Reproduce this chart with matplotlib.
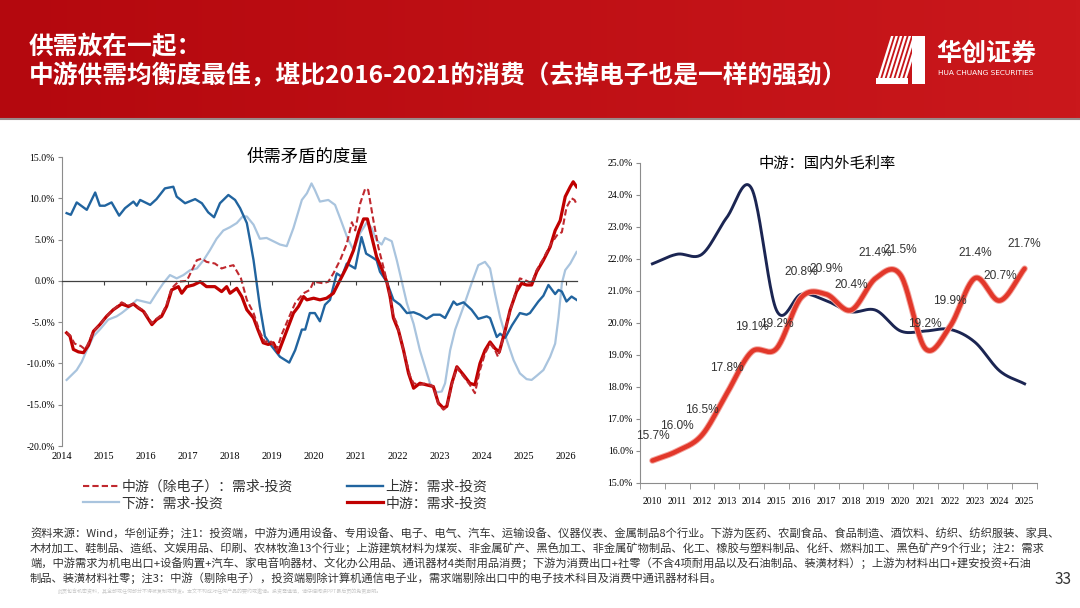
import numpy as np
import matplotlib
matplotlib.use('Agg')
import matplotlib.pyplot as plt
from matplotlib import font_manager
from matplotlib.patches import Polygon, Rectangle

plt.rcParams['font.family'] = ['Noto Sans CJK SC', 'DejaVu Sans']

# ---- left chart: 供需矛盾的度量 (decimal year, %)
up_x = [2014.11, 2014.21, 2014.35, 2014.59, 2014.79, 2014.90, 2015.02, 2015.18, 2015.36, 2015.50,
        2015.70, 2015.78, 2015.86, 2016.10, 2016.25, 2016.45, 2016.65, 2016.73, 2016.93, 2017.17,
        2017.33, 2017.48, 2017.62, 2017.76, 2017.96, 2018.12, 2018.24, 2018.40, 2018.48, 2018.56,
        2018.71, 2018.83, 2018.99, 2019.19, 2019.41, 2019.55, 2019.71, 2019.79, 2019.90, 2020.02,
        2020.14, 2020.26, 2020.38, 2020.54, 2020.66, 2020.78, 2020.98, 2021.13, 2021.24, 2021.37,
        2021.49, 2021.57, 2021.73, 2021.89, 2022.05, 2022.21, 2022.37, 2022.52, 2022.68, 2022.84,
        2023.00, 2023.12, 2023.32, 2023.40, 2023.56, 2023.75, 2023.91, 2024.11, 2024.19, 2024.35,
        2024.43, 2024.55, 2024.71, 2024.90, 2025.06, 2025.14, 2025.34, 2025.46, 2025.58, 2025.74,
        2025.82, 2025.90, 2026.01, 2026.13, 2026.25]
up_y = [8.2, 8.0, 9.5, 8.6, 10.7, 9.1, 9.1, 9.5, 7.9, 8.8,
        9.6, 9.1, 9.8, 9.2, 9.9, 11.2, 11.4, 10.2, 9.4, 9.9,
        9.4, 8.3, 7.7, 9.4, 10.4, 9.8, 8.8, 7.0, 4.8, 2.5,
        -3.1, -6.7, -7.9, -9.2, -9.9, -8.4, -5.9, -5.9, -3.9, -3.9,
        -4.9, -2.9, -2.3, 0.9, 0.5, 2.1, 1.5, 5.3, 3.3, 2.9,
        2.5, 1.1, -0.1, -2.3, -2.9, -3.9, -3.8, -4.1, -4.6, -4.1,
        -4.1, -4.5, -2.5, -2.9, -2.6, -3.5, -4.6, -4.3, -4.5, -6.8,
        -6.4, -6.9, -5.4, -3.9, -4.1, -3.9, -2.5, -1.8, -0.5, -1.6,
        -1.1, -1.3, -2.5, -1.9, -2.3]

down_x = [2014.11, 2014.23, 2014.35, 2014.47, 2014.59, 2014.75, 2014.90, 2015.10, 2015.30, 2015.42,
          2015.62, 2015.78, 2015.94, 2016.10, 2016.25, 2016.41, 2016.57, 2016.73, 2016.89, 2017.05,
          2017.21, 2017.37, 2017.52, 2017.68, 2017.84, 2018.00, 2018.16, 2018.30, 2018.40, 2018.56,
          2018.71, 2018.87, 2019.03, 2019.19, 2019.35, 2019.51, 2019.71, 2019.83, 2019.94, 2020.02,
          2020.14, 2020.34, 2020.50, 2020.62, 2020.78, 2020.94, 2021.10, 2021.26, 2021.37, 2021.49,
          2021.61, 2021.69, 2021.85, 2021.97, 2022.09, 2022.21, 2022.37, 2022.52, 2022.64, 2022.76,
          2022.92, 2023.04, 2023.12, 2023.24, 2023.36, 2023.56, 2023.75, 2023.91, 2024.07, 2024.19,
          2024.31, 2024.43, 2024.59, 2024.75, 2024.90, 2025.06, 2025.18, 2025.30, 2025.46, 2025.62,
          2025.74, 2025.82, 2025.90, 2025.98, 2026.10, 2026.25]
down_y = [-12.0, -11.4, -10.8, -9.8, -8.4, -6.7, -5.9, -4.7, -4.3, -3.9,
          -3.1, -2.3, -2.5, -2.7, -1.5, -0.3, 0.7, 0.3, 0.7, 1.3,
          1.5, 2.5, 3.7, 5.1, 6.1, 6.5, 7.0, 7.8, 7.8, 6.8,
          5.1, 5.2, 4.8, 4.4, 4.2, 6.4, 9.8, 10.6, 11.8, 11.0,
          9.6, 9.8, 9.2, 7.6, 5.4, 3.7, 5.8, 7.1, 6.4, 4.9,
          4.4, 5.2, 4.8, 2.5, -0.1, -2.7, -5.2, -8.4, -10.4, -12.4,
          -13.5, -13.4, -12.4, -8.4, -5.9, -3.1, -0.3, 1.9, 2.3, 1.5,
          -1.6, -4.4, -7.2, -9.6, -11.2, -11.9, -12.0, -11.5, -10.8, -9.2,
          -7.6, -4.4, -0.3, 1.3, 2.1, 3.5]

mid_x = [2014.11, 2014.19, 2014.27, 2014.39, 2014.51, 2014.63, 2014.75, 2014.90, 2015.06, 2015.22,
         2015.42, 2015.58, 2015.70, 2015.82, 2015.94, 2016.14, 2016.25, 2016.37, 2016.49, 2016.61,
         2016.77, 2016.85, 2016.97, 2017.13, 2017.29, 2017.44, 2017.64, 2017.80, 2017.92, 2018.00,
         2018.16, 2018.28, 2018.40, 2018.56, 2018.67, 2018.79, 2018.91, 2019.03, 2019.15, 2019.27,
         2019.39, 2019.51, 2019.63, 2019.75, 2019.83, 2019.99, 2020.14, 2020.30, 2020.46, 2020.62,
         2020.78, 2020.94, 2021.06, 2021.18, 2021.27, 2021.37, 2021.49, 2021.61, 2021.73, 2021.81,
         2021.89, 2022.01, 2022.13, 2022.25, 2022.37, 2022.52, 2022.68, 2022.84, 2022.96, 2023.08,
         2023.16, 2023.28, 2023.40, 2023.56, 2023.71, 2023.83, 2023.95, 2024.07, 2024.19, 2024.31,
         2024.41, 2024.55, 2024.67, 2024.82, 2024.94, 2025.06, 2025.18, 2025.30, 2025.46, 2025.62,
         2025.74, 2025.86, 2025.98, 2026.10, 2026.17, 2026.25]
mid_y = [-6.3, -6.7, -8.3, -8.6, -8.7, -7.8, -6.1, -5.3, -4.3, -3.5,
         -2.8, -3.1, -2.8, -3.3, -3.7, -5.3, -4.7, -4.3, -3.1, -1.1,
         -0.7, -1.5, -0.7, -0.5, -0.1, -0.7, -0.7, -1.3, -0.7, -1.5,
         -0.9, -1.9, -3.5, -4.5, -6.0, -7.5, -7.7, -7.5, -8.7, -7.1,
         -5.5, -3.9, -3.1, -1.9, -2.3, -2.1, -2.3, -2.1, -1.5, 0.1,
         1.7, 3.7, 5.9, 7.5, 7.5, 5.4, 2.9, 1.5, -0.1, -1.9,
         -4.5, -6.0, -8.4, -11.2, -13.0, -12.4, -12.6, -12.8, -14.8, -15.4,
         -15.2, -12.4, -10.4, -11.4, -12.4, -12.6, -10.0, -8.4, -7.4, -8.2,
         -8.6, -6.0, -3.5, -1.3, -0.3, -0.5, -0.5, 1.1, 2.5, 4.1,
         6.1, 7.3, 10.2, 11.4, 12.0, 11.4]

midx_x = [2014.11, 2014.19, 2014.30, 2014.45, 2014.55, 2014.65, 2014.75, 2014.90, 2015.06, 2015.22,
          2015.42, 2015.58, 2015.70, 2015.82, 2015.94, 2016.14, 2016.25, 2016.37, 2016.49, 2016.61,
          2016.77, 2016.97, 2017.21, 2017.33, 2017.44, 2017.64, 2017.80, 2017.92, 2018.08, 2018.26,
          2018.40, 2018.56, 2018.71, 2018.83, 2018.95, 2019.11, 2019.23, 2019.43, 2019.55, 2019.75,
          2019.90, 2019.99, 2020.22, 2020.34, 2020.46, 2020.62, 2020.78, 2020.90, 2020.98, 2021.10,
          2021.22, 2021.29, 2021.41, 2021.53, 2021.69, 2021.81, 2021.89, 2021.97, 2022.13, 2022.29,
          2022.37, 2022.52, 2022.68, 2022.84, 2022.96, 2023.08, 2023.16, 2023.28, 2023.40, 2023.56,
          2023.71, 2023.83, 2023.95, 2024.07, 2024.19, 2024.31, 2024.38, 2024.50, 2024.67, 2024.82,
          2024.90, 2025.02, 2025.18, 2025.30, 2025.46, 2025.62, 2025.78, 2025.90, 2026.01, 2026.13,
          2026.20, 2026.25]
midx_y = [-6.3, -6.6, -7.6, -7.9, -8.3, -7.3, -6.1, -5.3, -4.3, -3.5,
          -2.6, -3.0, -2.8, -3.2, -3.6, -5.1, -4.6, -4.1, -2.9, -0.9,
          -0.1, 0.0, 2.5, 2.7, 2.3, 2.1, 1.5, 1.7, 1.9, 0.3,
          -2.3, -3.9, -6.2, -7.4, -7.2, -8.4, -6.5, -4.1, -2.7, -1.5,
          -1.1, -0.1, -0.3, -0.1, 0.9, 2.5, 4.5, 7.1, 6.1, 9.4,
          11.2, 11.0, 7.4, 4.1, 0.9, -1.9, -4.3, -5.1, -8.4, -11.6,
          -12.4, -12.6, -12.4, -12.8, -14.9, -15.6, -15.3, -12.6, -10.5, -11.6,
          -12.6, -13.6, -10.8, -8.8, -7.6, -8.4, -9.2, -7.0, -3.6, -1.0,
          0.3, 0.1, -0.3, 1.3, 2.7, 4.3, 5.5, 5.9, 8.9, 10.0,
          9.8, 9.3]

left_years = list(range(2014, 2027))
legend_labels = ['中游（除电子）：需求-投资', '下游：需求-投资', '上游：需求-投资', '中游：需求-投资']

# ---- right chart: 中游：国内外毛利率 (%)
gm_years = [str(y) for y in range(2010, 2026)]
gm_domestic = [15.7, 16.0, 16.5, 17.8, 19.1, 19.2, 20.8, 20.9, 20.4, 21.4, 21.5, 19.2, 19.9, 21.4, 20.7, 21.7]
gm_overseas = [21.85, 22.15, 22.15, 23.3, 24.2, 20.4, 20.9, 20.7, 20.35, 20.4, 19.75, 19.75, 19.8, 19.4, 18.5, 18.1]

notes = [
    '资料来源：Wind，华创证券；注1：投资端，中游为通用设备、专用设备、电子、电气、汽车、运输设备、仪器仪表、金属制品8个行业。下游为医药、农副食品、食品制造、酒饮料、纺织、纺织服装、家具、',
    '木材加工、鞋制品、造纸、文娱用品、印刷、农林牧渔13个行业；上游建筑材料为煤炭、非金属矿产、黑色加工、非金属矿物制品、化工、橡胶与塑料制品、化纤、燃料加工、黑色矿产9个行业；注2：需求',
    '端，中游需求为机电出口+设备购置+汽车、家电音响器材、文化办公用品、通讯器材4类耐用品消费；下游为消费出口+社零（不含4项耐用品以及石油制品、装潢材料）；上游为材料出口+建安投资+石油',
    '制品、装潢材料社零；注3：中游（剔除电子），投资端剔除计算机通信电子业，需求端剔除出口中的电子技术科目及消费中通讯器材科目。',
]

# narrow font for the data labels if there is one
installed = {f.name for f in font_manager.fontManager.ttflist}
label_font = 'Liberation Sans Narrow' if 'Liberation Sans Narrow' in installed else 'Liberation Sans'
label_size = 10 if label_font == 'Liberation Sans Narrow' else 8.6


def smooth(x, y, n=24):
    # catmull-rom curve through the points, like Excel's smoothed line
    x = np.asarray(x, float)
    y = np.asarray(y, float)
    px = np.concatenate([[2 * x[0] - x[1]], x, [2 * x[-1] - x[-2]]])
    py = np.concatenate([[2 * y[0] - y[1]], y, [2 * y[-1] - y[-2]]])
    t = np.linspace(0, 1, n, endpoint=False)
    xs, ys = [], []
    for i in range(1, len(px) - 2):
        for p, out in ((px, xs), (py, ys)):
            p0, p1, p2, p3 = p[i - 1], p[i], p[i + 1], p[i + 2]
            out.append(0.5 * (2 * p1 + (-p0 + p2) * t + (2 * p0 - 5 * p1 + 4 * p2 - p3) * t ** 2
                              + (-p0 + 3 * p1 - 3 * p2 + p3) * t ** 3))
    xs.append([x[-1]])
    ys.append([y[-1]])
    return np.concatenate(xs), np.concatenate(ys)


fig = plt.figure(figsize=(10.8, 6.08), dpi=100)
fig.patch.set_facecolor('white')

# background / header in pixel coordinates
bg = fig.add_axes([0, 0, 1, 1])
bg.set_xlim(0, 1080)
bg.set_ylim(608, 0)
bg.axis('off')
g = np.linspace(0, 1, 256)[:, None]
c0 = np.array([180, 8, 14]) / 255
c1 = np.array([202, 24, 28]) / 255
bg.imshow((c0 + (c1 - c0) * g)[None, :, :], extent=(0, 1080, 118, 0), aspect='auto', zorder=0)
bg.plot([0, 1080], [118.5, 118.5], color='#9a8a8a', lw=1.5, zorder=1)
bg.text(29, 47, '供需放在一起：', color='white', fontsize=17.8, fontweight='bold', va='center')
bg.text(29, 76, '中游供需均衡度最佳，堪比2016-2021的消费（去掉电子也是一样的强劲）',
        color='white', fontsize=17.8, fontweight='bold', va='center')

# logo
for i in range(7):
    x0 = 876 + i * 4.4
    bg.add_patch(Polygon([(x0, 84), (x0 + 2.5, 84), (x0 + 2.5 + 15, 36), (x0 + 15, 36)],
                         closed=True, color='white', lw=0, zorder=2))
bg.add_patch(Rectangle((876, 78), 32, 6, color='white', lw=0, zorder=2))
bg.add_patch(Rectangle((912, 36), 13, 48, color='white', lw=0, zorder=2))
bg.text(986, 54, '华创证券', color='white', fontsize=18, fontweight='bold', ha='center', va='center')
bg.text(986, 73, 'HUA CHUANG SECURITIES', color='white', fontsize=5.3, ha='center', va='center',
        family='DejaVu Sans')

# ---------------- left chart
ax1 = fig.add_axes([62 / 1080, 1 - 446 / 608, 515 / 1080, 289 / 608])
l_down, = ax1.plot(down_x, down_y, color='#A9C4DE', lw=1.6)
l_up, = ax1.plot(up_x, up_y, color='#21649F', lw=1.7)
l_mid, = ax1.plot(mid_x, mid_y, color='#C00000', lw=2.3)
l_midx, = ax1.plot(midx_x, midx_y, color='#C0282E', lw=1.5, ls=(0, (3, 1.5)))
ax1.set_xlim(2014, 2026.26)
ax1.set_ylim(-20, 15)
for s in ['top', 'right']:
    ax1.spines[s].set_visible(False)
ax1.spines['left'].set_color('#8c8c8c')
ax1.spines['bottom'].set_position(('data', 0))
ax1.spines['bottom'].set_color('#404040')
ax1.spines['bottom'].set_linewidth(0.9)
ax1.set_yticks(range(-20, 16, 5))
ax1.set_yticklabels([f'{v:.1f}%' for v in range(-20, 16, 5)], family='Liberation Serif', fontsize=7)
ax1.tick_params(axis='y', direction='out', length=3, color='#8c8c8c', pad=2)
ax1.set_xticks(left_years)
ax1.tick_params(axis='x', labelbottom=False, direction='out', length=3, color='#404040')
sec = ax1.secondary_xaxis('bottom')
sec.set_ticks(left_years, labels=[str(y) for y in left_years])
sec.spines['bottom'].set_visible(False)
sec.tick_params(length=0, pad=4)
for lab in sec.get_xticklabels():
    lab.set_family('Liberation Serif')
    lab.set_fontsize(7.5)
fig.text(307 / 1080, 1 - 157 / 608, '供需矛盾的度量', ha='center', va='center', fontsize=12.5)
fig.legend([l_midx, l_down, l_up, l_mid], legend_labels, ncol=2, loc='upper left',
           bbox_to_anchor=(70 / 1080, 1 - 467 / 608), frameon=False, fontsize=10,
           handlelength=2.6, handletextpad=0.2, columnspacing=3.9, labelspacing=0.2,
           labelcolor='#333333')

# ---------------- right chart
ax2 = fig.add_axes([640 / 1080, 1 - 483 / 608, 397 / 1080, 320 / 608])
xs = np.arange(len(gm_years))
sx, sy = smooth(xs, gm_overseas)
ax2.plot(sx, sy, color='#1B2552', lw=2.1)
sx, sy = smooth(xs, gm_domestic)
ax2.plot(sx, sy, color='#F3A29B', lw=4.6, solid_capstyle='round')
ax2.plot(sx, sy, color='#E2372A', lw=3.2, solid_capstyle='round')
for i, v in enumerate(gm_domestic):
    ax2.annotate(f'{v:.1f}%', (i, v), xytext=(0, 18), textcoords='offset points',
                 ha='center', va='center', fontsize=label_size, color='#333333', family=label_font)
ax2.set_xlim(-0.5, len(gm_years) - 0.5)
ax2.set_ylim(15, 25)
for s in ['top', 'right']:
    ax2.spines[s].set_visible(False)
for s in ['left', 'bottom']:
    ax2.spines[s].set_color('#8c8c8c')
ax2.set_yticks(range(15, 26))
ax2.set_yticklabels([f'{v:.1f}%' for v in range(15, 26)], family='Liberation Serif', fontsize=7)
ax2.tick_params(axis='y', direction='out', length=3, color='#8c8c8c', pad=2)
ax2.set_xticks(xs)
ax2.set_xticklabels(gm_years, family='Liberation Serif', fontsize=7)
ax2.set_xticks(np.arange(-0.5, len(gm_years)), minor=True)
ax2.tick_params(axis='x', which='major', length=0, pad=10)
ax2.tick_params(axis='x', which='minor', direction='out', length=4, color='#8c8c8c')
fig.text(827 / 1080, 1 - 163 / 608, '中游：国内外毛利率', ha='center', va='center', fontsize=11)

# ---------------- footer
for k, line in enumerate(notes):
    fig.text(30 / 1080, 1 - (533 + 15 * k) / 608, line, fontsize=8.1, color='#333333', va='center')
fig.text(1063 / 1080, 1 - 580 / 608, '33', fontsize=11, color='#333333', ha='center', va='center')
fig.text(58 / 1080, 1 - 591 / 608, '此页包含机密资料，其全部或任何部分不得被复制或转发。本文不构成对任何产品的要约或邀请。投资需谨慎，请仔细阅读PPT最后页的免责声明。',
         fontsize=3.6, color='#c8c8c8', va='center')

fig.savefig('out.png', dpi=100)
